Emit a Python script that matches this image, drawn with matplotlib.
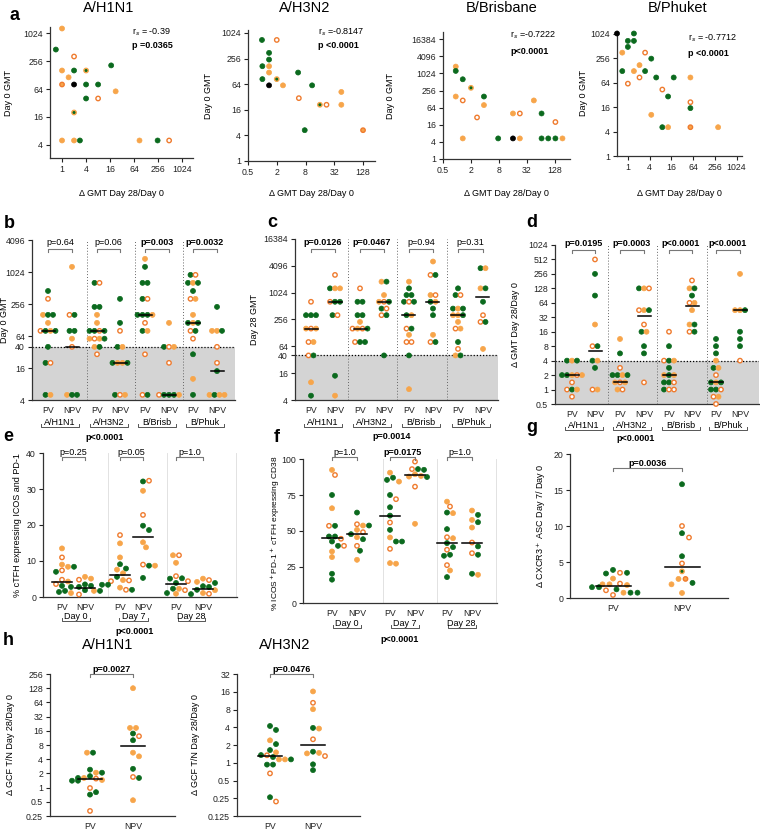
import matplotlib
matplotlib.use("Agg")
import matplotlib.pyplot as plt
import numpy as np
from matplotlib.lines import Line2D

W, H = 760, 830
GREEN = "#0b6a1e"
ORANGE = "#f7a54a"
RING = "#ef7b2e"
SHADE = "#d4d4d4"

# ---- panel a: (delta GMT, day 0 GMT, kind) ----
# kinds: g green, o orange, h open orange, k black, m green with orange ring, r orange with dark ring
A1_X = [1, 0.7, 2, 1, 2, 4, 17, 1.46, 1, 2, 4, 8, 22, 4, 8, 2, 1, 2, 2.8, 87, 247, 480]
A1_Y = [1280, 452, 320, 160, 160, 160, 206, 114, 80, 80, 80, 80, 57, 40, 40, 20, 5, 5, 5, 5, 5, 5]
A1_K = "oghogmgorkggoghmoogogh"
A2_X = [0.98, 2, 1.38, 1.38, 1, 1.38, 1.38, 5.6, 1, 2, 1.38, 2.7, 11, 45, 5.8, 16, 22, 45, 7.7, 128]
A2_Y = [700, 700, 348, 242, 169, 169, 120, 120, 84, 84, 60, 60, 60, 42, 30, 21, 21, 21, 5.3, 5.3]
A2_K = "ghgggooggmkogohmhogr"
A3_X = [0.94, 0.94, 1.33, 2, 0.94, 1.33, 3.8, 3.8, 2.7, 1.33, 45, 16, 22.5, 66, 131, 7.7, 16, 22.5, 66, 92, 131, 186]
A3_Y = [1790, 1260, 640, 320, 158, 115, 158, 79, 29, 5.3, 115, 40, 40, 40, 20, 5.3, 5.3, 5.3, 5.3, 5.3, 5.3, 5.3]
A3_K = "oggmohgohooohghgkogggo"
A4_X = [0.5, 1.47, 1, 1.47, 1, 0.7, 3, 4.45, 2.1, 0.7, 1.47, 3, 2.1, 6.1, 18.6, 54, 1, 9, 13, 54, 54, 4.45, 9, 13, 54, 316]
A4_Y = [1024, 1024, 675, 675, 480, 347, 347, 247, 171, 122, 122, 122, 85, 85, 85, 85, 60, 43, 29, 21, 15, 10.3, 5.1, 5.1, 5.1, 5.1]
A4_K = "kggggohgogoghggohhghgogoro"
A_TITLES = ["A/H1N1", "A/H3N2", "B/Brisbane", "B/Phuket"]
A_RS = ["r$_s$ = -0.39", "r$_s$ =-0.8147", "r$_s$ =-0.7222", "r$_s$ = -0.7712"]
A_P = ["p =0.0365", "p <0.0001", "p<0.0001", "p <0.0001"]

# ---- panel b: day 0 GMT ----
B_VALS = [[450, 320, 160, 160, 160, 113, 80, 80, 80, 80, 40, 20, 20, 5, 5],
          [1280, 160, 160, 80, 80, 57, 40, 5, 5, 5],
          [640, 640, 226, 226, 160, 113, 80, 80, 80, 80, 57, 57, 57, 57, 40, 40, 29],
          [320, 113, 80, 40, 40, 20, 20, 20, 20, 5, 5, 5],
          [1810, 1280, 640, 640, 320, 320, 160, 160, 160, 160, 113, 80, 80, 29, 5, 5],
          [113, 40, 40, 40, 20, 5, 5, 5, 5, 5],
          [905, 905, 640, 640, 640, 450, 320, 320, 160, 113, 113, 113, 80, 80, 57, 29, 10, 5],
          [226, 80, 80, 80, 40, 20, 14, 5, 5, 5, 5]]
B_KINDS = ["ghoggohgoggghgo", "ohgggohogg", "ghggoogghgohogogh", "gghgogooggho",
           "ogggghgggohgohhg", "oghohhgggo", "ghgogghoogoghghgog", "googhhgogoo"]
B_MED = [80, 40, 80, 20, 160, 5, 113, 14]
B_P = ["p=0.64", "p=0.06", "p=0.003", "p=0.0032"]
B_PBOLD = [False, False, True, True]

# ---- panel c: day 28 GMT ----
C_VALS = [[640, 320, 320, 320, 160, 160, 160, 80, 80, 40, 40, 10, 5],
          [2560, 1280, 1280, 1280, 640, 640, 640, 320, 320, 14, 5],
          [1280, 640, 640, 320, 320, 226, 160, 160, 160, 160, 80, 80, 80],
          [1810, 1810, 905, 640, 640, 640, 450, 450, 320, 320, 40],
          [1810, 1280, 905, 905, 640, 640, 640, 320, 320, 160, 160, 116, 80, 80, 40, 7],
          [5120, 2560, 2560, 905, 905, 640, 640, 450, 320, 116, 80, 80],
          [1280, 905, 905, 450, 450, 450, 320, 320, 320, 226, 160, 160, 80, 56, 40, 40],
          [3620, 3620, 1280, 1280, 640, 320, 226, 226, 56]]
C_KINDS = ["hgggohohohgog", "hgoohggghgo", "hggggohohghgg", "ogoohgghhgg",
           "ogggghggohgohhgo", "ohgohgoggohg", "gghgogoogohoghog", "googghhgo"]
C_MED = [160, 640, 160, 640, 320, 640, 320, 800]
C_P = ["p=0.0126", "p=0.0467", "p=0.94", "p=0.31"]
C_PBOLD = [True, True, False, False]

# ---- panel d: fold change GMT ----
D_VALS = [[4, 4, 4, 2, 2, 2, 2, 2, 1.41, 1, 1, 1, 0.71],
          [512, 256, 90.5, 22.6, 8, 8, 4, 4, 2.83, 1, 1],
          [11.3, 5.66, 2.83, 2, 2, 2, 2, 1.41, 1.41, 1.41, 1, 1],
          [128, 128, 128, 45, 45, 45, 22.6, 16, 16, 8, 5.66, 1.41],
          [16, 8, 4, 4, 4, 2.83, 2, 2, 2, 1.41, 1.41, 1.41, 1, 1, 1],
          [187, 128, 128, 90.5, 64, 64, 45, 22.6, 22.6, 16, 16],
          [11.3, 8, 5.66, 4, 2.83, 2.83, 2, 1.41, 1.41, 1.41, 1, 1, 1, 0.71, 0.71, 0.5],
          [256, 45, 45, 45, 16, 11.3, 8, 4]]
D_KINDS = ["gogggohohhgoh", "hggohggogho", "oghggogohooh", "gohhoghgoggh",
           "hghgogogogghghh", "hogghoooghg", "gggogohgoggghhoh", "oooggggh"]
D_MED = [2, 6.2, 1.41, 34, 2, 55, 1.41, 45]
D_P = ["p=0.0195", "p=0.0003", "p<0.0001", "p<0.0001"]

STRAIN_LABELS = ["A/H1N1", "A/H3N2", "B/Brisb", "B/Phuk"]
PAIR_LABELS = ["PV", "NPV"]

# ---- panel e: % cTFH ICOS+PD-1+ ----
E_VALS = [[13.5, 11.0, 9.0, 8.4, 8.4, 7.4, 7.0, 4.8, 4.3, 3.6, 3.1, 2.8, 1.7, 1.4, 1.1],
          [5.6, 5.1, 4.8, 3.5, 3.1, 2.8, 1.9, 1.7, 1.7, 0.7],
          [17.2, 14.9, 11.0, 9.1, 7.9, 7.6, 6.6, 5.6, 4.7, 4.6, 4.4, 3.4, 3.4, 2.6, 2.0, 2.0],
          [32.1, 32.3, 29.5, 22.8, 19.8, 18.6, 15.2, 13.8, 9.0, 8.7, 8.7, 5.3],
          [11.6, 11.6, 9.5, 5.8, 5.2, 5.1, 4.4, 3.9, 2.3, 2.3, 1.9, 1.1, 0.9, 0.8],
          [5.1, 4.7, 4.2, 3.9, 3.0, 2.8, 2.0, 1.9, 1.1, 0.9]]
E_KINDS = ["ohooghghohggggo", "oohggggogh", "hooggoogohhggohg", "ghohggoohgog",
           "ohohgghggohgog", "ohoggggooh"]
E_MED = [4.2, 2.5, 6.2, 16.7, 3.5, 2.3]
E_P = ["p=0.25", "p=0.05", "p=1.0"]

# ---- panel f: % ICOS+PD-1+ cTFH CD38+ ----
F_VALS = [[92.4, 88.9, 75, 65.8, 53.6, 53.6, 46.2, 46.2, 44.6, 42.7, 39.7, 39.7, 35.8, 31.9, 20.3, 16.2],
          [62.8, 54.7, 53.8, 53.8, 50.8, 49.2, 47.8, 45.7, 44.3, 39.7, 36.3, 30.0],
          [90.5, 87, 85.5, 84.3, 75, 72.1, 66.5, 60.7, 55.9, 50.8, 45.5, 42.7, 42.7, 37.6, 27.7, 27.3],
          [98.2, 93.0, 93.0, 92.5, 89.4, 88.2, 87.8, 87.5, 80.8, 55.0],
          [70.4, 67.0, 62.8, 62.4, 51.3, 45.7, 45.0, 41.6, 38.8, 37.0, 33.5, 32.8, 26.3, 22.6, 18.0],
          [64.2, 61.2, 57.7, 56.1, 52.4, 42.0, 39.3, 34.6, 33.5, 20.3, 19.6]]
F_KINDS = ["ohgohggghgghoogg", "ghogohgoghgo", "oggoghgghgogghoo", "hhggooogho",
           "ohgoghogghgghog", "ogogohghggo"]
F_MED = [45.3, 47.6, 60.7, 88.9, 41.6, 42.0]
F_P = ["p=1.0", "p=0.0175", "p=1.0"]
F_PBOLD = [False, True, False]
DAY_LABELS = ["Day 0", "Day 7", "Day 28"]

# ---- panel g: CXCR3+ ASC fold change ----
G_VALS = [[3.9, 3.5, 3.5, 3.4, 2.7, 2.0, 1.9, 1.9, 1.8, 1.5, 1.5, 1.2, 1.07, 0.74, 0.74, 0.74, 0.42],
          [15.8, 10.0, 9.0, 8.4, 5.8, 4.8, 3.7, 2.65, 2.65, 2.1, 1.9, 0.7]]
G_KINDS = ["ghggohoooggghoggh", "ghghghmorgoo"]
G_MED = [1.7, 4.27]

# ---- panel h: GCF T/N fold change ----
H1_VALS = [[5.5, 5.5, 2.4, 2.07, 2.07, 1.75, 1.6, 1.6, 1.55, 1.45, 1.4, 1.4, 0.98, 0.8, 0.71, 0.32],
           [128, 18.4, 18.4, 14, 12.3, 10.1, 5.5, 4.6, 2.5, 1.68, 1.6, 0.54]]
H1_KINDS = ["oggogggohogghggh", "oooghgooghgo"]
H1_MED = [1.55, 7.6]
H2_VALS = [[4.2, 3.6, 2.4, 2.07, 1.64, 1.5, 1.34, 1.35, 1.25, 1.14, 1.14, 1.14, 0.93, 0.93, 0.66, 0.26, 0.22],
           [16.2, 10.4, 8.1, 3.9, 3.8, 2.5, 1.54, 1.47, 1.44, 1.3, 0.94, 0.75]]
H2_KINDS = ["ggoggohggooggghgh", "ohogohgoohgg"]
H2_MED = [1.3, 2.0]

STYLE = {"g": (GREEN, GREEN, 0.5), "o": (ORANGE, ORANGE, 0.5), "h": ("white", RING, 1.0),
         "k": ("black", "black", 0.5), "m": (GREEN, ORANGE, 1.0), "r": (ORANGE, RING, 1.0)}

plt.rcParams["font.family"] = ["Liberation Sans", "DejaVu Sans"]
plt.rcParams["font.size"] = 6.5
plt.rcParams["axes.linewidth"] = 0.9
plt.rcParams["axes.edgecolor"] = "#333333"

fig = plt.figure(figsize=(W / 100, H / 100), dpi=100)


def px_axes(l, t, r, b):
    ax = fig.add_axes([l / W, 1 - b / H, (r - l) / W, (b - t) / H])
    ax.spines["top"].set_visible(False)
    ax.spines["right"].set_visible(False)
    ax.tick_params(length=3, width=0.8, pad=2, labelsize=6.3, colors="#222222")
    return ax


def ftext(x, y, s, **kw):
    fig.text(x / W, 1 - y / H, s, **kw)


def fline(xs, ys, **kw):
    fig.add_artist(Line2D([x / W for x in xs], [1 - y / H for y in ys], **kw))


def fmt(v):
    return "%g" % v


def ylabel_at(ax, text, xpx, ypx, size=6.5):
    ax.set_ylabel(text, fontsize=size)
    ax.yaxis.set_label_coords(xpx / W, 1 - ypx / H, transform=fig.transFigure)


def draw_points(ax, xs, ys, kinds):
    faces = [STYLE[k][0] for k in kinds]
    edges = [STYLE[k][1] for k in kinds]
    lws = [STYLE[k][2] for k in kinds]
    sizes = [10 if k in "hmr" else 13 for k in kinds]
    ax.scatter(xs, ys, s=sizes, c=faces, edgecolors=edges, linewidths=lws, zorder=3, clip_on=False)


def swarm(ax, xc, vals, d=5.0):
    vals = np.asarray(vals, float)
    yd = ax.transData.transform(np.column_stack([np.full(len(vals), xc), vals]))[:, 1]
    xs = np.zeros(len(vals))
    placed = []
    for v in dict.fromkeys(vals.tolist()):
        idx = np.where(vals == v)[0]
        base = (np.arange(len(idx)) - (len(idx) - 1) / 2) * d
        for shift in (0, d / 2, -d / 2, d, -d, 1.5 * d, -1.5 * d, 2 * d, -2 * d, 2.5 * d, -2.5 * d):
            cand = base + shift
            if all((cx - px) ** 2 + (yd[i] - py) ** 2 >= (0.92 * d) ** 2
                   for cx, i in zip(cand, idx) for px, py in placed):
                break
        for cx, i in zip(cand, idx):
            xs[i] = xc + cx
            placed.append((cx, yd[i]))
    return xs


def strip(ax, centers, vals_list, kinds_list, meds, mw, d=5.0):
    for xc, vals, kinds, med in zip(centers, vals_list, kinds_list, meds):
        xs = swarm(ax, xc, vals, d)
        draw_points(ax, xs, vals, kinds)
        ax.plot([xc - mw / 2, xc + mw / 2], [med, med], color="black", lw=1.1, zorder=4)


def setup_strip(l, t, r, b, ylim, ticks, log):
    ax = px_axes(l, t, r, b)
    ax.set_xlim(l, r)
    if log:
        ax.set_yscale("log", base=2)
    ax.set_ylim(*ylim)
    ax.set_yticks(ticks, [fmt(v) for v in ticks])
    ax.minorticks_off()
    ax.tick_params(axis="x", length=0, pad=4)
    return ax


def top_bracket(x1, x2, y, text, bold, tick=3, gap=2):
    fline([x1, x1, x2, x2], [y + tick, y, y, y + tick], color="#777777", lw=0.8)
    ftext((x1 + x2) / 2, y - gap, text, ha="center", va="bottom", fontsize=6.5,
          fontweight="bold" if bold else "normal")


def under_label(xc, y, text, hw):
    ftext(xc, y, text, ha="center", va="center", fontsize=6.5)
    fline([xc - hw, xc - hw, xc + hw, xc + hw], [y + 2, y + 5, y + 5, y + 2], color="#555555", lw=0.7)


# ---------------- panel a ----------------
A_BOX = [(50, 27, 193, 158), (248, 30, 375, 161), (443, 32, 570, 159), (617, 31, 742, 156)]
A_XLIM = [(0.5, 1900), (0.5, 228), (0.5, 270), (0.5, 1450)]
A_YLIM = [(2.1, 1380), (1, 1200), (1, 29500), (1, 1180)]
A_XT = [[1, 4, 16, 64, 256, 1024], [0.5, 2, 8, 32, 128], [0.5, 2, 8, 32, 128], [1, 4, 16, 64, 256, 1024]]
A_YT = [[4, 16, 64, 256, 1024], [1, 4, 16, 64, 256, 1024], [1, 4, 16, 64, 256, 1024, 4096, 16384],
        [1, 4, 16, 64, 256, 1024]]
A_TX = [109, 305, 502, 678]
A_YLX = [13, 213, 395, 588]
A_TEXT_POS = [(132, 32, 45), (318, 32, 45), (510, 35, 51), (688, 38, 53)]
A_DATA = [(A1_X, A1_Y, A1_K), (A2_X, A2_Y, A2_K), (A3_X, A3_Y, A3_K), (A4_X, A4_Y, A4_K)]

for i in range(4):
    l, t, r, b = A_BOX[i]
    ax = px_axes(l, t, r, b)
    ax.set_xscale("log", base=2)
    ax.set_yscale("log", base=2)
    ax.set_xlim(*A_XLIM[i])
    ax.set_ylim(*A_YLIM[i])
    ax.set_xticks(A_XT[i], [fmt(v) for v in A_XT[i]])
    ax.set_yticks(A_YT[i], [fmt(v) for v in A_YT[i]])
    ax.minorticks_off()
    x, y, k = A_DATA[i]
    draw_points(ax, x, y, k)
    ylabel_at(ax, "Day 0 GMT", A_YLX[i], (t + b) / 2)
    ax.set_xlabel("\u0394 GMT Day 28/Day 0", fontsize=6.5)
    ax.xaxis.set_label_coords((l + r) / 2 / W, 1 - 189 / H, transform=fig.transFigure)
    ftext(A_TX[i], 8, A_TITLES[i], ha="center", va="center", fontsize=10.5)
    tx, ty1, ty2 = A_TEXT_POS[i]
    ftext(tx, ty1, A_RS[i], ha="left", va="center", fontsize=6.5)
    ftext(tx, ty2, A_P[i], ha="left", va="center", fontsize=6.5, fontweight="bold")

# ---------------- panels b, c, d ----------------
B_X = [48, 72, 97, 120, 145, 169, 193, 217]
C_X = [311, 335, 360, 384, 409, 433, 458, 483]
D_X = [572, 595, 620, 644, 669, 692, 716, 740]

gmt_panels = [
    dict(box=(32, 240, 235, 400), ylim=(4, 4096), ticks=[4, 16, 40, 64, 256, 1024, 4096], thr=40,
         xs=B_X, seps=[87, 135, 183], right=True, vals=B_VALS, kinds=B_KINDS, med=B_MED,
         p=B_P, pb=B_PBOLD, pby=249, ylabel="Day 0 GMT", ylx=9, lab_y=422),
    dict(box=(295, 239, 498, 400), ylim=(4, 16384), ticks=[4, 16, 40, 64, 256, 1024, 4096, 16384], thr=40,
         xs=C_X, seps=[348, 397, 447], right=False, vals=C_VALS, kinds=C_KINDS, med=C_MED,
         p=C_P, pb=C_PBOLD, pby=249, ylabel="Day 28 GMT", ylx=259, lab_y=422),
    dict(box=(555, 245, 759, 404), ylim=(0.5, 1024), ticks=[0.5, 1, 2, 4, 8, 16, 32, 64, 128, 256, 512, 1024],
         thr=4, xs=D_X, seps=[608, 657, 707], right=True, vals=D_VALS, kinds=D_KINDS, med=D_MED,
         p=D_P, pb=[True] * 4, pby=250, ylabel="\u0394 GMT Day 28/Day 0", ylx=520, lab_y=425),
]

for pnl in gmt_panels:
    l, t, r, b = pnl["box"]
    ax = setup_strip(l, t, r, b, pnl["ylim"], pnl["ticks"], True)
    ax.axhspan(pnl["ylim"][0], pnl["thr"], color=SHADE, zorder=0, lw=0)
    ax.axhline(pnl["thr"], color="black", ls=(0, (1, 1.5)), lw=0.9, zorder=1)
    for s in pnl["seps"] + ([r - 0.5] if pnl["right"] else []):
        ax.axvline(s, color="#666666", ls=(0, (1, 2)), lw=0.7, zorder=1)
    ax.set_xticks(pnl["xs"], PAIR_LABELS * 4)
    ylabel_at(ax, pnl["ylabel"], pnl["ylx"], (t + b) / 2)
    strip(ax, pnl["xs"], pnl["vals"], pnl["kinds"], pnl["med"], 13)
    for j in range(4):
        x1, x2 = pnl["xs"][2 * j], pnl["xs"][2 * j + 1]
        top_bracket(x1, x2, pnl["pby"], pnl["p"][j], pnl["pb"][j])
        under_label((x1 + x2) / 2, pnl["lab_y"], STRAIN_LABELS[j], 19)

ftext(105, 437, "p<0.0001", ha="center", va="center", fontsize=6.5, fontweight="bold")
ftext(636, 438, "p<0.0001", ha="center", va="center", fontsize=6.5, fontweight="bold")

# ---------------- panel e ----------------
E_X = [62, 85, 120, 143, 176, 203]
ax = setup_strip(43, 453, 237, 597, (0, 40), [0, 10, 20, 30, 40], False)
for s in [108, 167, 236]:
    ax.axvline(s, color="#e2e2e2", lw=0.7, zorder=0)
ax.set_xticks(E_X, PAIR_LABELS * 3)
ylabel_at(ax, "% cTFH expressing ICOS and PD-1", 22, 525)
strip(ax, E_X, E_VALS, E_KINDS, E_MED, 20, d=6.0)
for j in range(3):
    x1, x2 = E_X[2 * j], E_X[2 * j + 1]
    top_bracket(x1, x2, 457, E_P[j], False, gap=0.5)
    under_label((x1 + x2) / 2 + 2, 616, DAY_LABELS[j], 14)
ftext(135, 631, "p<0.0001", ha="center", va="center", fontsize=6.5, fontweight="bold")

# ---------------- panel f ----------------
F_X = [332, 357, 390, 415, 447, 472]
ax = setup_strip(303, 459, 497, 603, (0, 100), [0, 25, 50, 75, 100], False)
for s in [383, 437, 496]:
    ax.axvline(s, color="#e2e2e2", lw=0.7, zorder=0)
ax.set_xticks(F_X, PAIR_LABELS * 3)
ylabel_at(ax, "% ICOS$^+$PD-1$^+$ cTFH expressing CD38", 282, 533, size=6.0)
strip(ax, F_X, F_VALS, F_KINDS, F_MED, 20, d=6.0)
for j in range(3):
    x1, x2 = F_X[2 * j], F_X[2 * j + 1]
    top_bracket(x1, x2, 457, F_P[j], F_PBOLD[j], gap=0.5)
    under_label((x1 + x2) / 2 + 2, 623, DAY_LABELS[j], 14)
ftext(392, 436, "p=0.0014", ha="center", va="center", fontsize=6.5, fontweight="bold")
ftext(400, 639, "p<0.0001", ha="center", va="center", fontsize=6.5, fontweight="bold")

# ---------------- panel g ----------------
G_X = [613, 682]
ax = setup_strip(570, 454, 728, 598, (0, 20), [0, 5, 10, 15, 20], False)
ax.set_xticks(G_X, PAIR_LABELS)
ylabel_at(ax, "\u0394 CXCR3$^+$ ASC Day 7/ Day 0", 548, 526)
strip(ax, G_X, G_VALS, G_KINDS, G_MED, 35, d=7.0)
top_bracket(G_X[0], G_X[1], 468, "p=0.0036", True, gap=0.5)

# ---------------- panel h ----------------
H1_X = [90, 133]
ax = setup_strip(50, 674, 175, 816, (0.25, 256), [0.25, 0.5, 1, 2, 4, 8, 16, 32, 64, 128, 256], True)
ax.set_xticks(H1_X, PAIR_LABELS)
ylabel_at(ax, "\u0394 GCF T/N Day 28/Day 0", 15, 745)
strip(ax, H1_X, H1_VALS, H1_KINDS, H1_MED, 24, d=6.0)
top_bracket(H1_X[0], H1_X[1], 674, "p=0.0027", True, gap=0.5)
ftext(108, 645, "A/H1N1", ha="center", va="center", fontsize=10.5)

H2_X = [270, 313]
ax = setup_strip(237, 674, 360, 816, (0.125, 32), [0.125, 0.25, 0.5, 1, 2, 4, 8, 16, 32], True)
ax.set_xticks(H2_X, PAIR_LABELS)
ylabel_at(ax, "\u0394 GCF T/N Day 28/Day 0", 200, 745)
strip(ax, H2_X, H2_VALS, H2_KINDS, H2_MED, 24, d=6.0)
top_bracket(H2_X[0], H2_X[1], 674, "p=0.0476", True, gap=0.5)
ftext(285, 645, "A/H3N2", ha="center", va="center", fontsize=10.5)

# panel letters
for letter, lx, ly in [("a", 15, 15), ("b", 9, 223), ("c", 272, 222), ("d", 532, 222),
                       ("e", 8, 436), ("f", 277, 437), ("g", 532, 427), ("h", 8, 640)]:
    ftext(lx, ly, letter, ha="center", va="center", fontsize=13, fontweight="bold")

fig.savefig("out.png", dpi=100)
